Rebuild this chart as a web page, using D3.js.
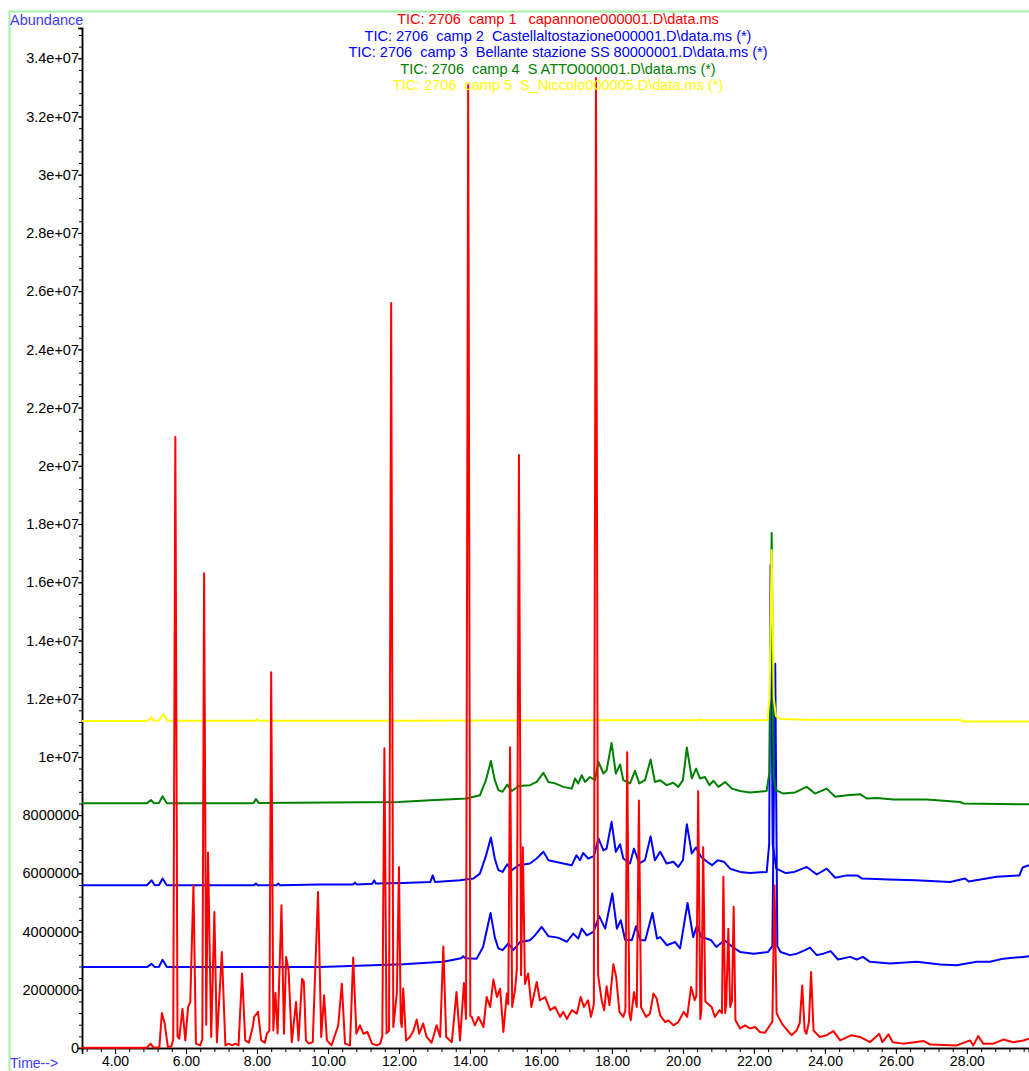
<!DOCTYPE html>
<html>
<head>
<meta charset="utf-8">
<script src="https://cdn.jsdelivr.net/npm/d3@7"></script>
<style>
  body { margin: 0; background: #fff; }
  svg { display: block; font-family: "Liberation Sans", Arial, sans-serif; }
</style>
</head>
<body>
<div id="chart"></div>
<script>
// values are [time in min, abundance in millions]
const camp1 = [[3.07,0.01],[4.90,0.01],[5.00,0.15],[5.08,0.02],[5.25,0.03],[5.32,1.20],[5.40,0.84],[5.49,0.03],[5.59,0.06],[5.64,0.3],[5.70,20.99],[5.76,0.4],[5.81,0.32],[5.90,1.35],[5.98,0.26],[6.06,1.41],[6.12,1.58],[6.21,5.59],[6.28,0.15],[6.40,0.09],[6.46,0.3],[6.51,16.31],[6.57,0.8],[6.62,6.72],[6.71,0.38],[6.80,4.67],[6.87,0.2],[7.01,3.30],[7.11,0.09],[7.20,0.15],[7.30,0.09],[7.39,0.15],[7.48,0.09],[7.58,2.56],[7.67,0.26],[7.77,0.18],[7.88,0.72],[7.92,1.07],[8.03,1.24],[8.12,0.26],[8.22,0.18],[8.28,0.49],[8.35,0.6],[8.40,12.91],[8.46,0.6],[8.52,1.9],[8.58,0.5],[8.69,4.90],[8.76,0.49],[8.82,3.13],[8.89,2.67],[8.98,0.2],[9.10,1.58],[9.17,0.26],[9.27,2.38],[9.32,2.28],[9.38,0.26],[9.46,0.15],[9.57,0.2],[9.72,5.36],[9.81,0.38],[9.89,1.81],[9.97,0.26],[10.10,0.09],[10.29,0.78],[10.39,2.21],[10.48,0.15],[10.62,0.09],[10.71,3.11],[10.80,0.49],[10.90,0.78],[11.00,0.49],[11.11,0.55],[11.24,0.15],[11.38,0.09],[11.47,0.15],[11.53,0.4],[11.59,10.30],[11.65,0.5],[11.72,0.6],[11.78,25.59],[11.84,0.72],[11.94,1.87],[12.00,6.22],[12.05,0.9],[12.08,0.72],[12.12,2.04],[12.20,0.26],[12.31,0.38],[12.41,0.6],[12.50,0.98],[12.57,0.49],[12.68,0.84],[12.78,0.38],[12.92,0.18],[13.06,0.78],[13.16,0.38],[13.25,3.49],[13.33,0.38],[13.49,0.2],[13.62,1.92],[13.72,0.26],[13.83,2.23],[13.89,1.0],[13.95,33.08],[14.01,1.1],[14.05,1.07],[14.14,0.78],[14.24,1.07],[14.38,0.72],[14.47,1.75],[14.57,1.41],[14.66,2.35],[14.76,1.75],[14.85,2.04],[14.94,0.55],[15.04,1.87],[15.08,1.5],[15.13,10.33],[15.19,1.41],[15.27,2.0],[15.32,2.7],[15.38,20.37],[15.44,2.5],[15.49,6.9],[15.55,2.2],[15.64,2.56],[15.73,1.41],[15.88,2.27],[15.97,1.64],[16.12,1.75],[16.26,1.30],[16.40,1.41],[16.54,1.07],[16.63,1.24],[16.73,1.0],[16.87,1.30],[17.01,1.18],[17.12,1.75],[17.21,1.41],[17.33,1.64],[17.41,1.07],[17.49,1.5],[17.55,33.32],[17.61,2.5],[17.71,1.64],[17.78,1.30],[17.85,2.12],[17.93,1.47],[18.04,2.88],[18.12,2.44],[18.21,1.24],[18.32,1.07],[18.38,1.3],[18.43,10.16],[18.49,1.2],[18.53,0.95],[18.62,1.92],[18.70,1.41],[18.76,8.50],[18.82,1.4],[18.96,1.07],[19.07,1.18],[19.17,1.87],[19.26,1.70],[19.36,1.12],[19.50,0.89],[19.59,0.95],[19.73,0.78],[19.87,0.89],[20.02,1.24],[20.12,1.07],[20.23,2.10],[20.33,1.64],[20.38,1.8],[20.43,8.82],[20.49,1.0],[20.52,1.3],[20.57,6.9],[20.63,1.6],[20.81,1.41],[20.90,1.07],[21.03,1.30],[21.10,1.2],[21.14,5.88],[21.19,1.2],[21.22,1.5],[21.28,4.10],[21.33,1.41],[21.38,1.6],[21.43,4.85],[21.48,0.95],[21.61,0.67],[21.75,0.78],[21.89,0.67],[22.03,0.72],[22.17,0.55],[22.31,0.52],[22.45,0.78],[22.52,0.9],[22.58,5.59],[22.64,1.2],[22.69,1.07],[22.79,0.84],[22.90,0.67],[23.06,0.44],[23.20,0.6],[23.29,0.85],[23.36,2.15],[23.43,0.6],[23.48,0.49],[23.55,0.9],[23.61,2.61],[23.68,0.6],[23.85,0.38],[24.05,0.44],[24.24,0.58],[24.43,0.26],[24.75,0.44],[24.99,0.38],[25.27,0.20],[25.53,0.49],[25.62,0.2],[25.79,0.47],[25.91,0.2],[26.21,0.15],[26.78,0.24],[26.97,0.12],[27.71,0.09],[28.09,0.26],[28.18,0.09],[28.32,0.41],[28.46,0.15],[28.74,0.15],[29.03,0.29],[29.31,0.2],[29.59,0.26],[29.75,0.32]];

const camp2 = [[3.07,5.59],[4.90,5.59],[5.03,5.76],[5.12,5.59],[5.24,5.60],[5.34,5.82],[5.46,5.59],[7.92,5.59],[7.97,5.65],[8.02,5.59],[8.55,5.59],[8.60,5.65],[8.65,5.59],[9.78,5.62],[10.70,5.62],[10.76,5.68],[10.82,5.62],[11.25,5.64],[11.30,5.76],[11.35,5.65],[12.12,5.67],[12.88,5.70],[12.95,5.93],[13.02,5.70],[13.72,5.76],[14.10,5.82],[14.28,5.99],[14.45,6.6],[14.59,7.23],[14.70,6.5],[14.80,6.11],[14.92,6.05],[15.05,6.31],[15.18,6.11],[15.37,6.28],[15.69,6.34],[15.88,6.51],[16.07,6.74],[16.21,6.45],[16.40,6.40],[16.63,6.34],[16.87,6.28],[17.00,6.62],[17.10,6.45],[17.19,6.70],[17.33,6.51],[17.49,6.59],[17.62,7.20],[17.76,6.79],[17.85,6.85],[17.99,7.77],[18.11,6.74],[18.23,7.00],[18.32,6.51],[18.51,6.34],[18.62,6.85],[18.77,6.34],[18.93,6.45],[19.09,7.27],[19.21,6.45],[19.36,6.74],[19.54,6.34],[19.73,6.40],[19.87,6.22],[20.00,6.45],[20.11,7.69],[20.25,6.68],[20.37,6.89],[20.51,6.57],[20.68,6.40],[20.82,6.28],[20.98,6.45],[21.15,6.40],[21.33,6.16],[21.61,6.05],[21.89,6.01],[22.36,6.05],[22.43,7.0],[22.47,16.59],[22.53,7.0],[22.63,6.16],[22.90,6.01],[23.14,6.05],[23.49,6.22],[23.77,5.96],[24.05,6.16],[24.29,5.85],[24.62,5.93],[24.91,5.93],[25.05,5.82],[25.80,5.79],[26.55,5.76],[27.53,5.70],[27.95,5.82],[28.05,5.72],[28.84,5.88],[29.48,5.93],[29.57,6.20],[29.75,6.28]];

const camp3 = [[3.07,2.78],[4.90,2.78],[5.03,2.89],[5.12,2.78],[5.24,2.79],[5.34,3.03],[5.46,2.78],[9.78,2.78],[12.12,2.88],[13.25,2.96],[13.75,3.08],[13.81,3.15],[13.87,3.08],[14.19,3.07],[14.37,3.47],[14.58,4.64],[14.70,3.8],[14.80,3.42],[14.92,3.36],[15.08,3.59],[15.22,3.36],[15.41,3.64],[15.69,3.70],[15.83,3.87],[16.02,4.16],[16.21,3.84],[16.44,3.80],[16.54,3.76],[16.73,3.65],[16.91,3.93],[17.05,3.76],[17.15,4.10],[17.29,3.87],[17.48,3.99],[17.64,4.53],[17.81,4.10],[18.01,5.31],[18.14,4.10],[18.25,4.39],[18.37,3.72],[18.56,3.70],[18.68,4.18],[18.80,3.70],[18.94,3.70],[19.14,4.64],[19.27,3.76],[19.36,3.81],[19.55,3.53],[19.78,3.64],[19.92,3.42],[20.13,4.98],[20.29,3.81],[20.40,4.22],[20.52,3.81],[20.66,3.76],[20.80,3.70],[20.94,3.47],[21.17,3.70],[21.40,3.47],[21.61,3.30],[21.99,3.24],[22.40,3.30],[22.52,3.5],[22.60,13.2],[22.66,3.5],[22.75,3.30],[23.02,3.19],[23.21,3.24],[23.44,3.36],[23.58,3.45],[23.77,3.19],[23.96,3.24],[24.16,3.33],[24.37,3.04],[24.71,3.13],[24.90,3.04],[25.07,3.13],[25.27,2.96],[25.83,2.90],[26.59,2.96],[27.25,2.87],[27.71,2.84],[28.28,2.96],[28.65,2.96],[29.03,3.07],[29.59,3.13],[29.75,3.15]];

const camp4 = [[3.07,8.41],[4.90,8.41],[5.01,8.52],[5.10,8.41],[5.24,8.42],[5.34,8.65],[5.46,8.41],[7.90,8.41],[7.97,8.55],[8.05,8.42],[12.00,8.45],[12.88,8.51],[13.91,8.57],[14.28,8.68],[14.45,9.2],[14.59,9.86],[14.70,9.2],[14.80,8.86],[14.92,8.80],[15.05,9.05],[15.18,8.83],[15.37,9.00],[15.69,9.03],[15.88,9.14],[16.07,9.45],[16.21,9.14],[16.40,9.09],[16.63,8.97],[16.87,8.91],[16.96,9.26],[17.05,9.09],[17.15,9.37],[17.24,9.14],[17.38,9.31],[17.52,9.20],[17.62,9.83],[17.76,9.43],[17.85,9.54],[17.99,10.48],[18.11,9.43],[18.23,9.74],[18.32,9.20],[18.51,9.09],[18.65,9.52],[18.77,9.09],[18.93,9.20],[19.09,9.91],[19.21,9.14],[19.36,9.20],[19.54,9.03],[19.73,9.11],[19.87,8.97],[20.00,9.20],[20.11,10.32],[20.25,9.26],[20.37,9.60],[20.48,9.26],[20.62,9.31],[20.75,9.03],[20.86,9.18],[21.00,8.97],[21.19,9.14],[21.38,8.91],[21.61,8.83],[21.89,8.78],[22.36,8.83],[22.44,9.5],[22.50,17.69],[22.56,9.3],[22.62,8.86],[22.83,8.74],[23.16,8.78],[23.49,8.97],[23.72,8.74],[24.05,8.91],[24.29,8.63],[24.62,8.68],[24.99,8.72],[25.18,8.57],[25.46,8.59],[25.93,8.54],[26.87,8.54],[27.81,8.45],[27.91,8.40],[29.75,8.37]];

const camp5 = [[3.07,11.23],[4.92,11.23],[5.02,11.36],[5.10,11.24],[5.24,11.25],[5.36,11.47],[5.48,11.24],[7.95,11.24],[8.00,11.29],[8.05,11.24],[12.00,11.24],[17.50,11.26],[17.55,11.30],[17.60,11.26],[20.45,11.26],[20.50,11.30],[20.55,11.26],[22.38,11.26],[22.44,12.0],[22.50,17.10],[22.56,12.0],[22.62,11.40],[22.75,11.30],[23.50,11.28],[25.00,11.28],[27.81,11.28],[27.90,11.22],[29.75,11.22]];

const titles = [
  "TIC: 2706  camp 1   capannone000001.D\\data.ms",
  "TIC: 2706  camp 2  Castellaltostazione000001.D\\data.ms (*)",
  "TIC: 2706  camp 3  Bellante stazione SS 80000001.D\\data.ms (*)",
  "TIC: 2706  camp 4  S ATTO000001.D\\data.ms (*)",
  "TIC: 2706  camp 5  S_Niccolo000005.D\\data.ms (*)"
];
const traceColors = ["#ff0000", "#0000ff", "#0000ff", "#008000", "#ffff00"];
const xMajorTicks = d3.range(4, 29, 2);
const yMajorTicks = d3.range(0, 3.5e7, 2e6);

const width = 1029, height = 1071;

const svg = d3.select("#chart").append("svg")
    .attr("width", width)
    .attr("height", height);

const x = d3.scaleLinear().domain([3.07, 29.75]).range([82, 1029]);
const y = d3.scaleLinear().domain([0, 3.504e7]).range([1048, 28]);

// outer light green frame
svg.append("path")
    .attr("d", "M9.5,1071V11.5H1029")
    .attr("fill", "none")
    .attr("stroke", "#a6f0a6")
    .attr("stroke-width", 2);

// y axis
const yFmt = v => v >= 1e7 ? (+(v / 1e7).toFixed(1)) + "e+07" : String(v);
const yAxis = svg.append("g").attr("transform", "translate(82,0)");
yAxis.call(d3.axisLeft(y).tickValues(d3.range(0, 3.5e7, 4e5)).tickSize(3).tickFormat(""));
yAxis.append("g").call(d3.axisLeft(y).tickValues(yMajorTicks).tickSize(4).tickFormat(yFmt));
yAxis.selectAll(".domain").attr("stroke", "#000").attr("stroke-width", 1.5);
yAxis.selectAll("text").attr("font-size", 14.5).attr("fill", "#000")
    .attr("font-family", "'Liberation Sans', Arial, sans-serif").attr("x", -3);

// x axis
const xAxis = svg.append("g").attr("transform", "translate(0,1048)");
xAxis.call(d3.axisBottom(x).tickValues(d3.range(3.2, 29.8, 0.4)).tickSize(4).tickFormat(""));
xAxis.append("g").call(d3.axisBottom(x).tickValues(xMajorTicks).tickSize(6).tickFormat(d3.format(".2f")));
xAxis.selectAll(".domain").attr("stroke", "#000").attr("stroke-width", 1.5);
xAxis.selectAll("text").attr("font-size", 14).attr("fill", "#000")
    .attr("font-family", "'Liberation Sans', Arial, sans-serif").attr("y", 8);

// axis names
svg.append("text").attr("x", 10).attr("y", 25).attr("font-size", 14.5)
    .attr("fill", "#3c3cff").text("Abundance");
svg.append("text").attr("x", 10).attr("y", 1068).attr("font-size", 14)
    .attr("fill", "#3c3cff").text("Time-->");

// traces, red drawn last so it sits on top
const line = d3.line().x(d => x(d[0])).y(d => y(d[1] * 1e6));
const traces = [camp3, camp2, camp4, camp5, camp1];
const order = [2, 1, 3, 4, 0];
traces.forEach((data, i) => {
    svg.append("path")
        .datum(data)
        .attr("fill", "none")
        .attr("stroke", traceColors[order[i]])
        .attr("stroke-width", 2)
        .attr("stroke-linejoin", "round")
        .attr("d", line);
});

// header lines
svg.append("g").selectAll("text")
    .data(titles)
    .enter()
    .append("text")
    .attr("x", 558)
    .attr("y", (d, i) => 24 + i * 16.5)
    .attr("text-anchor", "middle")
    .attr("font-size", 14.5)
    .style("white-space", "pre")
    .attr("fill", (d, i) => traceColors[i])
    .text(d => d);
</script>
</body>
</html>
